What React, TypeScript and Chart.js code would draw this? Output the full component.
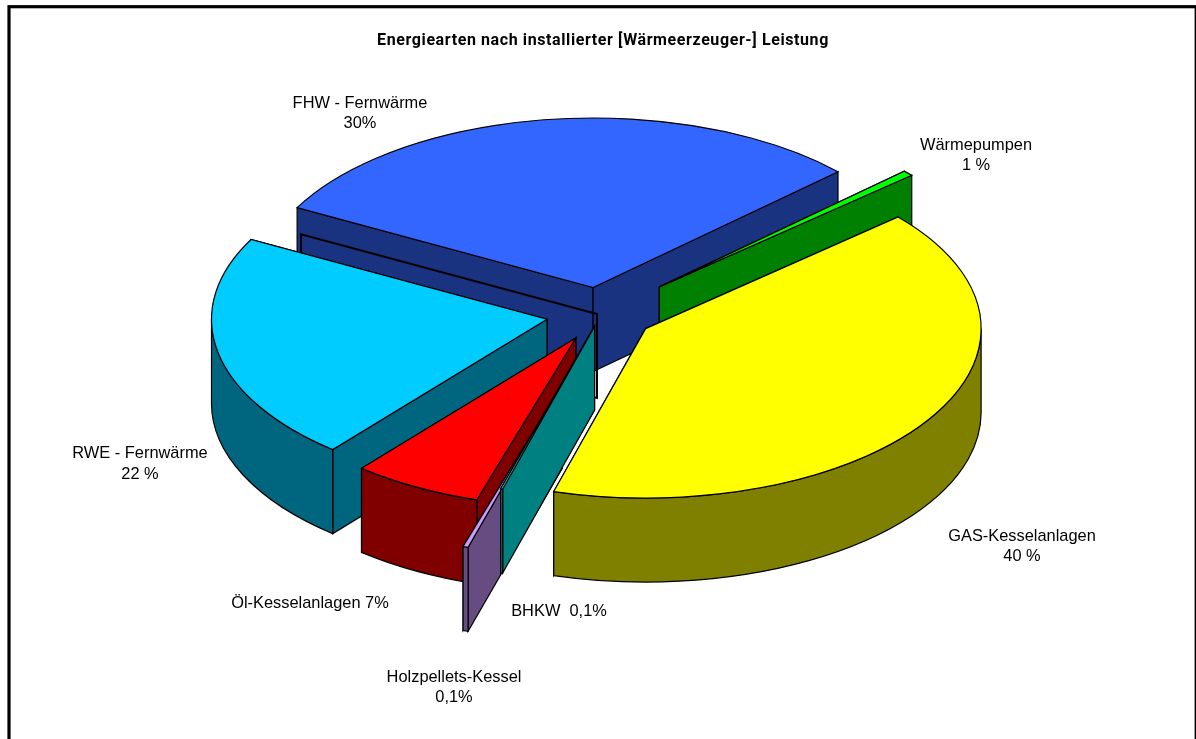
import React, { useEffect, useRef } from "react";
import { Chart, registerables } from "chart.js";

Chart.register(...registerables);

// Slice shares as measured from the slice angles of the picture (percent)
const categories = ["GAS-Kesselanlagen", "BHKW", "Holzpellets-Kessel", "Öl-Kesselanlagen", "RWE - Fernwärme", "FHW - Fernwärme", "Wärmepumpen"];
const sliceShares = [40.86, 0.1, 0.25, 6.26, 21.78, 30.22, 0.53];
const explosions = [54, 25, 146, 54, 54, 53, 80];
const sideShift = [0, 1.5, 4, 1.5, 0, 0, 0];
const topColors = ["#FFFF00", "#00FFFF", "#CC99FF", "#FF0000", "#00CCFF", "#3366FF", "#00FF00"];
const wallColors = ["#808000", "#008080", "#664C80", "#800000", "#006680", "#1A3380", "#008000"];
const drawOrder = [5, 6, 4, 3, 2, 1, 0];

const chartTitle = "Energiearten nach installierter [Wärmeerzeuger-] Leistung";
const labelLines = [
  ["FHW - Fernwärme", "30%"],
  ["Wärmepumpen", "1 %"],
  ["GAS-Kesselanlagen", "40 %"],
  ["RWE - Fernwärme", "22 %"],
  ["Öl-Kesselanlagen 7%"],
  ["BHKW  0,1%"],
  ["Holzpellets-Kessel", "0,1%"],
];
const labelAnchors = [
  [360, 108, 20],
  [976, 150, 20],
  [1022, 541, 20],
  [140, 458, 21],
  [310, 608, 20],
  [559, 616, 20],
  [454, 682, 20],
];

const SQUASH = 0.505;
const DEPTH = 84;
const STROKE = 1.2;
const FHW_INDEX = 5;

const pie3d = {
  id: "pie3d",
  beforeDraw(chart: any) {
    const ctx = chart.ctx;
    ctx.save();
    ctx.strokeStyle = "#000";
    ctx.lineWidth = 3.2;
    ctx.strokeRect(9, 6.7, 1187.2, 760);
    ctx.restore();
  },
  beforeDatasetsDraw(chart: any) {
    const ctx: CanvasRenderingContext2D = chart.ctx;
    const arcs = chart.getDatasetMeta(0).data;
    const apexOf = (arc: any, e: number, dx: number) => {
      const mid = (arc.startAngle + arc.endAngle) / 2;
      return { x: arc.x + dx + e * Math.cos(mid), y: arc.y + e * SQUASH * Math.sin(mid) };
    };
    const on = (a: any, r: number, ang: number) => ({ x: a.x + r * Math.cos(ang), y: a.y + r * SQUASH * Math.sin(ang) });

    const wall = (a: any, r: number, ang: number, fill: string | null, lw = STROKE) => {
      const p = on(a, r, ang);
      ctx.beginPath();
      ctx.moveTo(a.x, a.y);
      ctx.lineTo(p.x, p.y);
      ctx.lineTo(p.x, p.y + DEPTH);
      ctx.lineTo(a.x, a.y + DEPTH);
      ctx.closePath();
      if (fill) {
        ctx.fillStyle = fill;
        ctx.fill();
      }
      ctx.lineWidth = lw;
      ctx.stroke();
    };

    ctx.save();
    ctx.strokeStyle = "#000";
    ctx.lineJoin = "miter";
    drawOrder.forEach((i) => {
      const arc: any = arcs[i];
      const a = apexOf(arc, explosions[i], sideShift[i]);
      const r = arc.outerRadius;
      const s = arc.startAngle;
      const e = arc.endAngle;
      const mid = (s + e) / 2;
      // radial walls: the one facing the viewer goes last
      if (Math.sin(mid) < 0) {
        wall(a, r, s, wallColors[i]);
        wall(a, r, e, wallColors[i]);
      } else {
        wall(a, r, e, wallColors[i]);
        wall(a, r, s, wallColors[i]);
      }
      // rim, only its front half
      for (let n = -1; n <= 1; n++) {
        const lo = Math.max(s, 2 * Math.PI * n);
        const hi = Math.min(e, 2 * Math.PI * n + Math.PI);
        if (hi <= lo) continue;
        ctx.beginPath();
        ctx.ellipse(a.x, a.y, r, r * SQUASH, 0, lo, hi);
        ctx.ellipse(a.x, a.y + DEPTH, r, r * SQUASH, 0, hi, lo, true);
        ctx.closePath();
        ctx.fillStyle = wallColors[i];
        ctx.fill();
        ctx.lineWidth = STROKE;
        ctx.stroke();
      }
      // top face: the library's own arc element, squashed
      ctx.save();
      ctx.translate(a.x, a.y);
      ctx.scale(1, SQUASH);
      ctx.translate(-arc.x, -arc.y);
      arc.draw(ctx);
      ctx.restore();
      ctx.beginPath();
      ctx.moveTo(a.x, a.y);
      ctx.ellipse(a.x, a.y, r, r * SQUASH, 0, s, e);
      ctx.closePath();
      ctx.lineWidth = STROKE;
      ctx.stroke();
      // the empty outlined frame inside the FHW wall
      if (i === FHW_INDEX) {
        const g = { x: arc.x - 3, y: arc.y };
        wall(g, r, s, null, 2);
      }
    });
    ctx.restore();
    return false;
  },
  afterDraw(chart: any) {
    const ctx: any = chart.ctx;
    ctx.save();
    ctx.fillStyle = "#000";
    ctx.textAlign = "center";
    ctx.textBaseline = "alphabetic";
    ctx.font = "bold 16px 'Roboto'";
    ctx.letterSpacing = "0.6px";
    ctx.fillText(chartTitle, 603, 45);
    ctx.letterSpacing = "0px";
    ctx.font = "16.4px 'Liberation Sans'";
    labelLines.forEach((lines, i) => {
      const [x, y, lh] = labelAnchors[i];
      lines.forEach((t, j) => ctx.fillText(t, x, y + j * lh));
    });
    ctx.restore();
  },
};

export default function App() {
  const ref = useRef<HTMLCanvasElement>(null);
  useEffect(() => {
    const chart = new Chart(ref.current as HTMLCanvasElement, {
      type: "pie",
      data: {
        labels: categories,
        datasets: [{ data: sliceShares, backgroundColor: topColors, borderWidth: 0 }],
      },
      options: {
        responsive: false,
        animation: false,
        rotation: 48.8,
        radius: 335.5,
        layout: { padding: { left: 4, right: 0, top: 0, bottom: 111 } },
        plugins: { legend: { display: false }, tooltip: { enabled: false } },
      } as any,
      plugins: [pie3d as any],
    });
    return () => chart.destroy();
  }, []);
  return (
    <div style={{ position: "fixed", left: 0, top: 0, width: 1196, height: 739, background: "#fff" }}>
      <canvas ref={ref} width={1196} height={739} style={{ display: "block" }} />
    </div>
  );
}
